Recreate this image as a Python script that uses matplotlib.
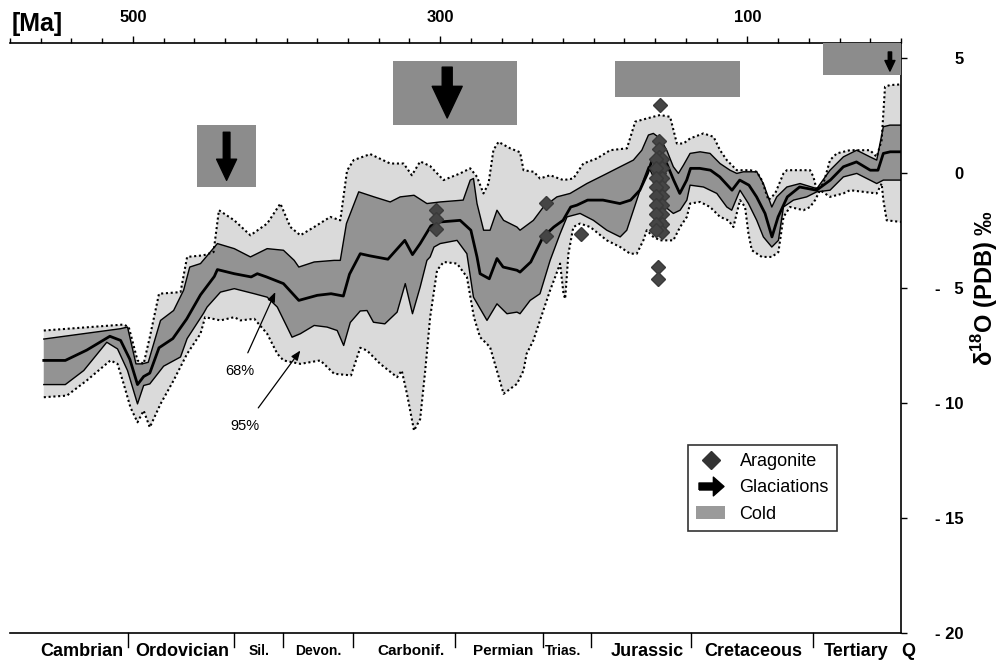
import numpy as np
import matplotlib
matplotlib.use("Agg")
import matplotlib.pyplot as plt
from matplotlib.patches import Rectangle, Patch
from matplotlib.lines import Line2D
from matplotlib.path import Path

plt.rcParams['font.family'] = ['Liberation Sans', 'DejaVu Sans']
plt.rcParams['mathtext.fontset'] = 'custom'
plt.rcParams['mathtext.rm'] = 'Liberation Sans:bold'

# --- data (age in Ma, d18O permil PDB) ---
mean_age = [558, 544, 530, 515, 508, 502, 497, 493, 489, 483, 474, 465, 456, 447, 445,
            434, 423, 419, 413, 402, 392, 380, 371, 363, 359, 352, 346, 334, 323, 318,
            313, 306, 300, 287, 280, 276, 274, 268, 263, 259, 250, 248, 241, 233, 226,
            220, 215, 211, 204, 194, 183, 176, 170, 165, 162, 159, 152.5, 148, 144,
            139.5, 137, 131, 124, 118, 110, 105, 99, 94, 88.5, 84, 80, 74, 66, 55, 46,
            37.5, 29, 20, 15, 11.5, 7, 0]
mean_val = [-8.15, -8.15, -7.7, -7.1, -7.28, -8.1, -9.2, -8.85, -8.7, -7.6, -7.2, -6.35,
            -5.3, -4.5, -4.2, -4.38, -4.52, -4.38, -4.52, -4.81, -5.54, -5.32, -5.25,
            -5.35, -4.4, -3.51, -3.6, -3.75, -2.93, -3.55, -3.07, -2.3, -2.13, -2.06,
            -2.49, -3.65, -4.38, -4.6, -3.72, -4.09, -4.23, -4.31, -3.87, -2.78, -2.35,
            -2.06, -1.48, -1.4, -1.18, -1.18, -1.33, -1.18, -0.75, -0.02, 0.56, 0.85,
            0.41, -0.31, -0.89, -0.31, 0.2, 0.2, 0.12, -0.17, -0.75, -0.31, -0.53,
            -1.04, -1.76, -2.78, -1.91, -1.04, -0.61, -0.75, -0.31, 0.27, 0.48, 0.12,
            0.12, 0.85, 0.92, 0.92]

up68_age = [558, 508, 503.5, 498, 494, 490, 486.5, 482, 473.5, 467, 463, 456, 445, 434,
            423.5, 412.6, 402, 395, 392, 382, 369, 365, 361, 353, 343, 332.5, 326, 317,
            308.6, 300, 285, 280.4, 278.3, 276, 271.7, 267.5, 263, 258.7, 250, 248,
            239.3, 232.8, 224, 215.4, 204.5, 193.7, 182.8, 174.2, 168.7, 164.4, 161.2,
            156.8, 152.5, 148.2, 144.9, 141.6, 137.3, 130.8, 124.3, 117.8, 111.3, 106.9,
            102.6, 93.9, 89.6, 84.1, 80.9, 74.3, 65.7, 54.8, 46.2, 37.5, 28.8, 20.2,
            15.8, 11.5, 7.2, 0]
up68_val = [-7.22, -6.77, -6.7, -8.3, -8.3, -8.23, -7.43, -6.41, -5.98, -5.1, -4.09,
            -3.94, -3.07, -3.29, -3.65, -3.29, -3.36, -3.8, -4.09, -3.87, -3.8, -3.8,
            -2.2, -0.82, -1.04, -1.26, -1.04, -0.97, -1.33, -1.26, -1.18, -0.31, -0.24,
            -1.33, -2.49, -2.49, -1.62, -2.06, -2.35, -2.49, -2.06, -1.48, -1.04, -0.89,
            -0.46, -0.1, 0.27, 0.56, 0.99, 1.65, 1.72, 1.5, 0.99, 0.27, -0.02, 0.34,
            0.85, 0.92, 0.85, 0.41, 0.12, -0.02, 0.05, 0.05, -0.46, -1.48, -1.04, -0.61,
            -0.46, -0.68, 0.12, 0.7, 0.99, 0.7, 0.56, 2.01, 2.08, 2.08]

lo68_age = [558, 544, 532, 517, 510, 503.5, 497, 493, 489, 480, 469, 464.7, 454, 451.7,
            443, 434, 421, 412.6, 406, 399.6, 396.4, 391, 382, 373.6, 367, 362.8, 358.5,
            352, 347.6, 343.4, 336, 328, 322.7, 318, 313, 308.6, 306.5, 304, 300, 289,
            282.6, 278.3, 269.5, 263, 256.5, 250, 248, 241.4, 235, 228.4, 221.9, 217.4,
            208.9, 200.2, 191.5, 182.8, 178.5, 172, 167.7, 164.4, 158, 153, 148.2, 143.8,
            139.4, 137.3, 128.6, 119.9, 113.4, 110.2, 104.8, 99.3, 93.9, 89.6, 84.1,
            79.8, 76.5, 70, 61.4, 54.8, 46.2, 37.5, 28.8, 20.2, 15.8, 11.5, 0]
lo68_val = [-9.2, -9.2, -8.59, -7.36, -7.65, -8.59, -10.04, -9.24, -9.17, -8.4, -8.0,
            -7.2, -6.1, -5.83, -5.18, -5.03, -5.25, -5.4, -5.83, -6.7, -7.14, -6.99,
            -6.63, -6.7, -6.85, -7.5, -6.5, -6.0, -5.98, -6.49, -6.56, -6.05, -4.81,
            -6.12, -4.96, -3.8, -3.65, -3.22, -3.07, -2.93, -3.51, -5.4, -6.41, -5.69,
            -6.12, -6.05, -6.12, -5.54, -5.25, -3.8, -2.64, -1.91, -1.76, -2.06, -2.49,
            -2.78, -2.49, -1.18, -0.31, 0.27, -0.6, -1.5, -1.76, -1.62, -1.18, -0.53,
            -0.61, -0.89, -1.48, -1.62, -0.75, -1.33, -2.06, -2.78, -3.22, -2.93, -1.48,
            -1.18, -1.04, -0.82, -0.75, -0.17, -0.02, -0.31, -0.46, -0.31, -0.31]

up95_age = [558, 506, 502.7, 497, 493, 489, 483, 469, 464.7, 454, 447.5, 444, 434,
            423.5, 412.6, 404, 397.5, 391, 382, 371.5, 365, 360.6, 356.3, 345.5, 332.5,
            323.8, 318.4, 313, 306.5, 297.8, 287, 280.4, 276, 271.8, 268.5, 265.3, 262,
            254.4, 248, 245.7, 239, 235, 228.4, 219.8, 213.3, 206.8, 198, 189.3, 178.4,
            173, 165.4, 156.8, 150.3, 145.9, 141.6, 137.3, 128.6, 122, 117.8, 113.4,
            106.9, 98.2, 93.9, 90.6, 86.3, 81.9, 76.5, 74.3, 59.2, 57, 54.8, 50.5, 46.2,
            41.8, 33.2, 20.2, 15.8, 12.6, 10.4, 7.2, 0]
up95_val = [-6.85, -6.59, -6.7, -8.15, -8.3, -7.14, -5.25, -5.18, -3.65, -3.58, -3.44,
            -1.62, -2.06, -2.71, -2.2, -1.33, -2.35, -2.71, -2.35, -1.91, -2.06, 0.1,
            0.56, 0.82, 0.41, 0.41, -0.1, 0.5, 0.3, -0.31, -0.02, 0.2, -0.17, -0.89,
            -0.46, 1.0, 1.35, 1.07, 0.9, 0.12, 0.05, -0.24, -0.1, -0.31, -0.24, 0.41,
            0.63, 0.99, 1.07, 2.23, 2.37, 2.52, 2.44, 1.28, 1.28, 1.5, 1.72, 1.57, 0.99,
            0.56, 0.12, 0.12, 0.05, -0.31, -1.18, -0.89, -0.02, 0.12, 0.12, -0.17,
            -0.75, -0.46, 0.56, 0.85, 0.99, 0.99, 0.7, 1.43, 3.75, 3.82, 3.85]

lo95_age = [558, 543, 530, 514.6, 510, 506, 501.6, 497, 493, 489, 482, 473.5, 464.7,
            456, 453, 443, 434, 430, 421, 412.6, 406, 402, 391, 378, 369, 358, 352,
            347.6, 339, 328, 325, 321.6, 317, 313, 309.7, 306.5, 302, 297.7, 289, 282.6,
            278, 274, 267.5, 258.7, 250, 245.7, 243.7, 239.3, 235, 228.4, 225.1, 221.9,
            219.7, 218.6, 216.5, 213.3, 208.9, 202.3, 191.5, 182.8, 176.3, 172, 167.7,
            165.5, 161.2, 156.8, 148.2, 143.8, 139.4, 137.3, 130.8, 124.3, 117.8, 112.4,
            109.1, 104.8, 101.5, 99.3, 97.1, 90.6, 84.1, 79.8, 76.5, 72.2, 63.5, 59.2,
            55.9, 52.7, 46.2, 37.5, 33.2, 15.8, 12.6, 11.5, 9.3, 0]
lo95_val = [-9.75, -9.68, -9.02, -8.15, -8.3, -9.17, -10.19, -10.84, -10.33, -11.06,
            -10.04, -9.02, -7.86, -6.99, -6.27, -6.41, -6.27, -6.41, -6.34, -6.99, -7.86,
            -8.15, -8.3, -8.15, -8.73, -8.8, -7.6, -7.72, -8.3, -8.88, -8.59, -9.6,
            -11.2, -10.7, -8.59, -6.27, -4.23, -3.87, -3.94, -4.52, -6.27, -7.14, -7.57,
            -9.6, -9.17, -8.59, -7.86, -7.28, -6.41, -5.1, -4.52, -3.94, -5.25, -5.47,
            -3.51, -2.35, -2.2, -2.35, -2.93, -3.22, -3.51, -3.51, -2.93, -2.49, -2.78,
            -2.93, -2.93, -2.35, -1.91, -1.33, -1.26, -1.48, -1.91, -2.06, -2.35, -1.18,
            -1.48, -2.64, -3.36, -3.65, -3.65, -3.44, -1.91, -1.48, -1.62, -1.48, -1.18,
            -0.75, -1.04, -0.89, -0.75, -0.89, -0.46, -1.18, -2.06, -2.13]

# aragonite samples: scattered ones, then the dense Jurassic cluster
arag_age = [303, 303, 303, 231, 231, 208, 157, 158, 158,
            157.5, 157.5, 157.5, 157.5, 157.5, 157.5, 157.5, 157.5, 157.5, 157.5, 157.5,
            157.5,
            155.5, 155.5, 155.5, 155.5, 155.5, 155.5, 155.5, 155.5, 155.5,
            159.5, 159.5, 159.5, 159.5, 159.5, 159.5, 159.5, 159.5, 159.5]
arag_val = [-1.6, -2.0, -2.45, -1.32, -2.76, -2.67, 2.95, -4.1, -4.6,
            1.4, 1.05, 0.7, 0.35, 0.0, -0.35, -0.7, -1.05, -1.4, -1.75, -2.1, -2.45,
            0.6, 0.2, -0.2, -0.6, -1.0, -1.4, -1.8, -2.2, -2.55,
            0.6, 0.2, -0.2, -0.6, -1.0, -1.4, -1.8, -2.2, -2.5]

cold_old = [458, 330.5, 186, 50.7]
cold_young = [419.7, 249.8, 104.7, 0]
cold_top = [2.08, 4.87, 4.87, 5.65]
cold_bottom = [-0.62, 2.08, 3.3, 4.26]

glac_age = [439, 295.4, 7.2]
glac_tail = [1.77, 4.6, 5.26]
glac_tip = [-0.32, 2.39, 4.43]
glac_size = [16, 24, 8]

period_names = ['Cambrian', 'Ordovician', 'Sil.', 'Devon.', 'Carbonif.', 'Permian',
                'Trias.', 'Jurassic', 'Cretaceous', 'Tertiary', 'Q']
period_mid = [533, 468, 418, 379, 319, 259, 220, 165, 96, 29, -4.5]
period_fs = [13, 13, 10, 10, 11, 11, 10, 13, 13, 13, 13]
period_bounds = [503, 434, 402, 357, 290, 233, 202, 137, 57]

light = '#dadada'
dark = '#939393'
cold_c = '#8c8c8c'

fig = plt.figure(figsize=(10.04, 6.61), dpi=100)
ax = fig.add_axes([10/1004, 28/661, 891/1004, 590/661])

# 95% band
ax.fill(np.r_[up95_age, lo95_age[::-1]], np.r_[up95_val, lo95_val[::-1]],
        color=light, lw=0, zorder=1)
# 68% band
ax.fill(np.r_[up68_age, lo68_age[::-1]], np.r_[up68_val, lo68_val[::-1]],
        color=dark, lw=0, zorder=2)
ax.plot(up95_age, up95_val, color='k', lw=1.5, ls=(0, (1, 1.3)), zorder=3)
ax.plot(lo95_age, lo95_val, color='k', lw=1.5, ls=(0, (1, 1.3)), zorder=3)
ax.plot(up68_age, up68_val, color='k', lw=1.0, zorder=4)
ax.plot(lo68_age, lo68_val, color='k', lw=1.0, zorder=4)
ax.plot(mean_age, mean_val, color='k', lw=2.0, zorder=5)

ax.plot(arag_age, arag_val, ls='none', marker='D', ms=7.5, color='#454545',
        mec='#3a3a3a', zorder=6)

for a0, a1, t, b in zip(cold_old, cold_young, cold_top, cold_bottom):
    ax.add_patch(Rectangle((a1, b), a0 - a1, t - b, color=cold_c, lw=0, zorder=6))

for a, t0, t1, s in zip(glac_age, glac_tail, glac_tip, glac_size):
    ax.annotate('', xy=(a, t1), xytext=(a, t0),
                arrowprops=dict(arrowstyle='simple,head_length=0.95,head_width=0.9,tail_width=0.3',
                                mutation_scale=s, color='k', shrinkA=0, shrinkB=0),
                zorder=7)

# 68% / 95% annotations
ax.annotate('68%', xy=(407.3, -5.18), xytext=(430.7, -8.63), ha='center', va='center',
            fontsize=10.5, arrowprops=dict(arrowstyle='-|>,head_length=0.55,head_width=0.22',
                                           color='k', lw=0.9, shrinkA=7, shrinkB=0),
            zorder=8)
ax.annotate('95%', xy=(391, -7.72), xytext=(426.8, -10.98), ha='center', va='center',
            fontsize=10.5, arrowprops=dict(arrowstyle='-|>,head_length=0.55,head_width=0.22',
                                           color='k', lw=0.9, shrinkA=7, shrinkB=0),
            zorder=8)

ax.set_xlim(580, 0)
ax.set_ylim(-20, 5.65)

# top axis
ax.xaxis.set_ticks_position('top')
ax.set_xticks([500, 300, 100])
ax.set_xticklabels(['500', '300', '100'], fontsize=12, fontweight='bold')
ax.set_xticks(np.arange(0, 581, 20), minor=True)
ax.tick_params(axis='x', which='major', direction='out', length=5, width=1, pad=8)
ax.tick_params(axis='x', which='minor', direction='out', length=3.5, width=1)

# right axis
ax.yaxis.set_ticks_position('right')
yt = [5, 0, -5, -10, -15, -20]
ax.set_yticks(yt)
ax.set_yticklabels(['5', '0', '- \u20075', '- 10', '- 15', '- 20'], fontsize=12,
                   fontweight='bold')
ax.tick_params(axis='y', direction='out', length=4, width=1, pad=41)
for t in ax.yaxis.get_major_ticks():
    t.label2.set_horizontalalignment('right')

ax.spines['left'].set_visible(False)
for s in ['top', 'right', 'bottom']:
    ax.spines[s].set_linewidth(1.2)

ax.text(1.094, -5.0, '\u03b4$^{18}$O (PDB) \u2030', transform=ax.get_yaxis_transform(),
        rotation=90, ha='center', va='center', fontsize=17, fontweight='bold')
fig.text(12/1004, 1 - 24/661, '[Ma]', ha='left', va='center', fontsize=18,
         fontweight='bold')

# period labels along the bottom
xt = ax.get_xaxis_transform()
for b in period_bounds:
    ax.plot([b, b], [0, -0.024], color='k', lw=1, transform=xt, clip_on=False)
for name, m, fs in zip(period_names, period_mid, period_fs):
    ax.text(m, -0.031, name, transform=xt, ha='center', va='center', fontsize=fs,
            fontweight='bold', clip_on=False)

# legend
arrow_marker = Path([(-1, -0.28), (0.15, -0.28), (0.15, -0.75), (1, 0), (0.15, 0.75),
                     (0.15, 0.28), (-1, 0.28), (-1, -0.28)])
handles = [Line2D([], [], ls='none', marker='D', ms=9.5, color='#333333'),
           Line2D([], [], ls='none', marker=arrow_marker, ms=18, color='k'),
           Patch(facecolor='#9a9a9a', edgecolor='none')]
leg = ax.legend(handles, ['Aragonite', 'Glaciations', 'Cold'], loc='upper left',
                bbox_to_anchor=(0.761, 0.319), fontsize=13, frameon=True,
                fancybox=False, edgecolor='k', borderaxespad=0, borderpad=0.45,
                labelspacing=0.52, handlelength=1.6, handletextpad=0.8)
leg.get_frame().set_linewidth(1.2)
leg.set_zorder(10)

fig.savefig('out.png', dpi=100)
